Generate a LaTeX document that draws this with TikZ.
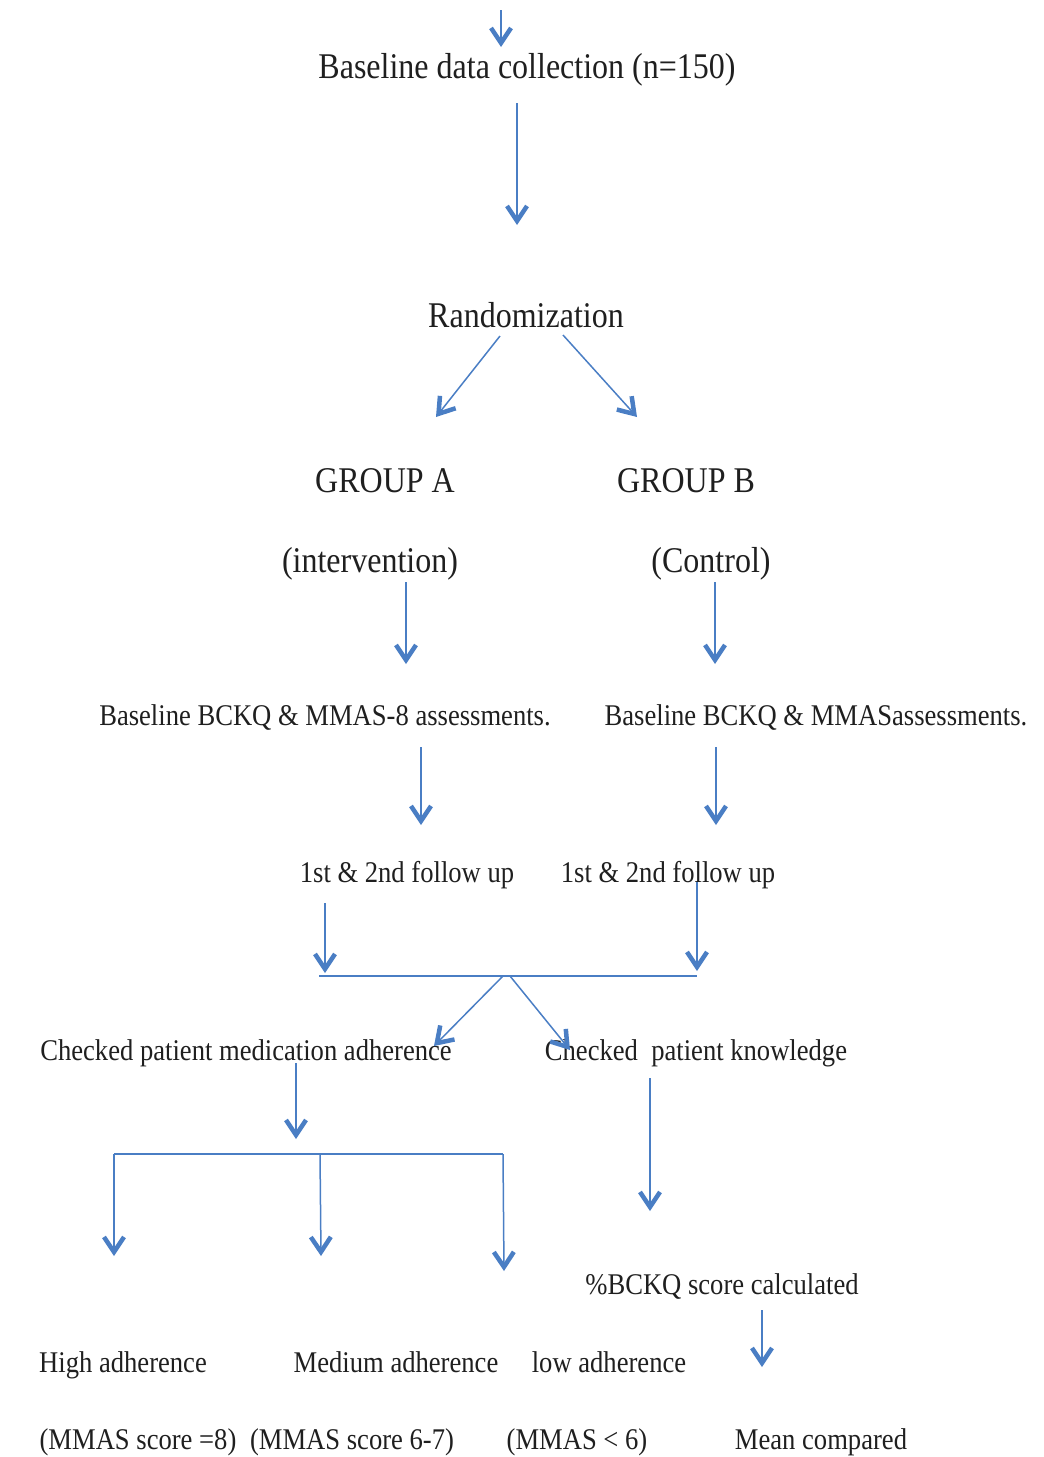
\documentclass[tikz,border=0pt]{standalone}
\usepackage{fontspec}
\setmainfont{Liberation Serif}
\usetikzlibrary{arrows.meta}
\definecolor{flowblue}{HTML}{4A7EC4}
\newcommand{\vs}[1]{\scalebox{1}[1.13]{#1}}
\tikzset{
  big/.style={inner sep=0pt, anchor=base, text=black!88, font=\fontsize{32}{38}\selectfont},
  small/.style={inner sep=0pt, anchor=base, text=black!88, font=\fontsize{26.6}{32}\selectfont},
  conn/.style={draw=flowblue, line width=1.5pt},
  arr/.style={conn, -{Straight Barb[length=15pt,width=20pt,line width=4.5pt]}},
}
\begin{document}
\begin{tikzpicture}[x=1pt,y=-1pt]
\useasboundingbox (0,0) rectangle (1044,1457);
% text nodes
\node[big] (base) at (527,78) {\vs{Baseline data collection (n=150)}};
\node[big] (rand) at (526,327) {\vs{Randomization}};
\node[big] (ga) at (385,492) {\vs{GROUP A}};
\node[big] (gb) at (686,492) {\vs{GROUP B}};
\node[big] (inter) at (370,572) {\vs{(intervention)}};
\node[big] (ctrl) at (711,572) {\vs{(Control)}};
\node[small] (bla) at (325,725) {\vs{Baseline BCKQ \& MMAS-8 assessments.}};
\node[small] (blb) at (816,725) {\vs{Baseline BCKQ \& MMASassessments.}};
\node[small] (fua) at (407,882) {\vs{1st \& 2nd follow up}};
\node[small] (fub) at (668,882) {\vs{1st \& 2nd follow up}};
\node[small] (adh) at (246,1060) {\vs{Checked patient medication adherence}};
\node[small] (know) at (696,1060) {\vs{Checked\ \ patient knowledge}};
\node[small] (bckq) at (722,1294) {\vs{\%BCKQ score calculated}};
\node[small] (high) at (123,1372) {\vs{High adherence}};
\node[small] (med) at (396,1372) {\vs{Medium adherence}};
\node[small] (low) at (609,1372) {\vs{low adherence}};
\node[small] (highs) at (138,1449) {\vs{(MMAS score =8)}};
\node[small] (meds) at (352,1449) {\vs{(MMAS score 6-7)}};
\node[small] (lows) at (577,1449) {\vs{(MMAS < 6)}};
\node[small] (mean) at (821,1449) {\vs{Mean compared}};
% connector end points
\coordinate (top0) at (501,10);
\coordinate (top1) at (501,47);
\coordinate (b0) at (517,103);
\coordinate (b1) at (517,225);
\coordinate (r0) at (500,336);
\coordinate (r1) at (436,417);
\coordinate (r2) at (563,335);
\coordinate (r3) at (637,417);
\coordinate (ia0) at (406,582);
\coordinate (ia1) at (406,664);
\coordinate (ib0) at (715,582);
\coordinate (ib1) at (715,664);
\coordinate (ba0) at (421,747);
\coordinate (ba1) at (421,825);
\coordinate (bb0) at (716,747);
\coordinate (bb1) at (716,825);
\coordinate (fa0) at (325,903);
\coordinate (fa1) at (325,973);
\coordinate (fb0) at (697,882);
\coordinate (fb1) at (697,971);
\coordinate (hl) at (319,976);
\coordinate (hr) at (697,976);
\coordinate (s1) at (503,976);
\coordinate (s2) at (510,976);
\coordinate (c1) at (434,1046);
\coordinate (c2) at (570,1050);
\coordinate (m0) at (296,1063);
\coordinate (m1) at (296,1139);
\coordinate (tl) at (114,1154);
\coordinate (tm) at (320,1154);
\coordinate (tr) at (503,1154);
\coordinate (e1) at (114,1256);
\coordinate (e2) at (321,1256);
\coordinate (e3) at (504,1271);
\coordinate (k0) at (650,1078);
\coordinate (k1) at (650,1211);
\coordinate (p0) at (762,1310);
\coordinate (p1) at (762,1367);
% connectors
\draw[arr] (top0) -- (top1);
\draw[arr] (b0) -- (b1);
\draw[arr] (r0) -- (r1);
\draw[arr] (r2) -- (r3);
\draw[arr] (ia0) -- (ia1);
\draw[arr] (ib0) -- (ib1);
\draw[arr] (ba0) -- (ba1);
\draw[arr] (bb0) -- (bb1);
\draw[arr] (fa0) -- (fa1);
\draw[arr] (fb0) -- (fb1);
\draw[conn] (hl) -- (hr);
\draw[arr] (s1) -- (c1);
\draw[arr] (s2) -- (c2);
\draw[arr] (m0) -- (m1);
\draw[conn] (tl) -- (tr);
\draw[arr] (tl) -- (e1);
\draw[arr] (tm) -- (e2);
\draw[arr] (tr) -- (e3);
\draw[arr] (k0) -- (k1);
\draw[arr] (p0) -- (p1);
\end{tikzpicture}
\end{document}
